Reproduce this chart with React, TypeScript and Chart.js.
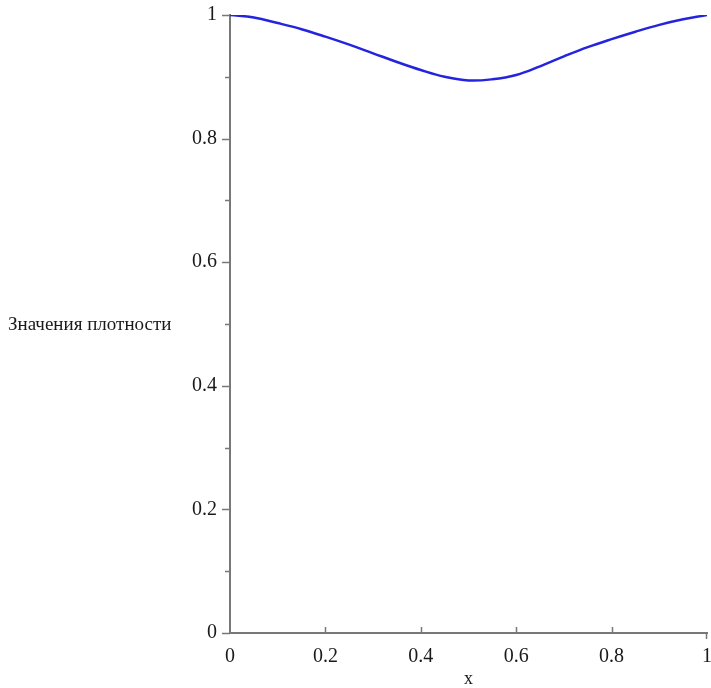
import React, { useEffect, useRef } from "react";
import { Chart, registerables } from "chart.js";

Chart.register(...registerables);

const xValues = [0, 0.05, 0.1, 0.15, 0.2, 0.25, 0.3, 0.35, 0.4, 0.45, 0.5, 0.55, 0.6, 0.65, 0.7, 0.75, 0.8, 0.85, 0.9, 0.95, 1];
const densityValues = [1.0, 0.996, 0.987, 0.977, 0.965, 0.952, 0.938, 0.924, 0.911, 0.9, 0.894, 0.896, 0.903, 0.917, 0.933, 0.948, 0.961, 0.973, 0.984, 0.993, 1.0];
const yMajorTicks = [0, 0.2, 0.4, 0.6, 0.8, 1];
const yMinorTicks = [0.1, 0.3, 0.5, 0.7, 0.9];
const xMajorTicks = [0.2, 0.4, 0.6, 0.8];
const xEndTicks = [1];
const yTitle = "Значения плотности";
const xTitle = "x";

const AXIS_COLOR = "#787878";
const FONT = "'Liberation Serif', 'Times New Roman', serif";

const fmt = (v: any) => String(+(+v).toFixed(1));

const tickPlugin = {
  id: "mapleTicks",
  afterDraw(chart: any) {
    const { ctx, scales } = chart;
    const xs = scales.x;
    const ys = scales.y;
    const left = xs.left;
    const bottom = ys.bottom;
    ctx.save();
    ctx.strokeStyle = AXIS_COLOR;
    ctx.lineWidth = 1.5;
    ctx.beginPath();
    yMajorTicks.forEach((v) => {
      const p = Math.round(ys.getPixelForValue(v)) + 0.5;
      ctx.moveTo(left - 8, p);
      ctx.lineTo(left, p);
    });
    yMinorTicks.forEach((v) => {
      const p = Math.round(ys.getPixelForValue(v)) + 0.5;
      ctx.moveTo(left - 5, p);
      ctx.lineTo(left, p);
    });
    xMajorTicks.forEach((v) => {
      const p = Math.round(xs.getPixelForValue(v)) + 0.5;
      ctx.moveTo(p, bottom);
      ctx.lineTo(p, bottom - 6);
    });
    xEndTicks.forEach((v) => {
      const p = Math.round(xs.getPixelForValue(v)) - 0.5;
      ctx.moveTo(p, bottom);
      ctx.lineTo(p, bottom + 6);
    });
    ctx.stroke();
    ctx.restore();
  },
};

export default function App() {
  const canvasRef = useRef<HTMLCanvasElement | null>(null);

  useEffect(() => {
    if (!canvasRef.current) return;
    const chart = new Chart(canvasRef.current, {
      type: "line",
      data: {
        datasets: [
          {
            data: xValues.map((x, i) => ({ x, y: densityValues[i] })),
            borderColor: "#2424e0",
            borderWidth: 2.5,
            pointRadius: 0,
            fill: false,
            tension: 0.4,
          },
        ],
      },
      options: {
        responsive: false,
        animation: false,
        layout: { padding: { top: 15, right: 4, bottom: 0, left: 0 } },
        plugins: { legend: { display: false }, tooltip: { enabled: false } },
        scales: {
          x: {
            type: "linear",
            min: 0,
            max: 1,
            afterFit: (s: any) => {
              s.height = 55;
              s.paddingLeft = 0;
              s.paddingRight = 0;
            },
            ticks: {
              stepSize: 0.2,
              padding: 12,
              color: "#1a1a1a",
              font: { family: FONT, size: 20 },
              maxRotation: 0,
              callback: fmt,
            },
            grid: { drawOnChartArea: false, drawTicks: false },
            border: { display: true, color: AXIS_COLOR, width: 2 },
            title: {
              display: true,
              text: xTitle,
              color: "#1a1a1a",
              font: { family: FONT, size: 18, lineHeight: 1.0 },
              padding: 0,
            },
          },
          y: {
            type: "linear",
            min: 0,
            max: 1,
            afterFit: (s: any) => {
              s.width = 230;
              s.paddingTop = 0;
              s.paddingBottom = 0;
            },
            ticks: {
              stepSize: 0.2,
              padding: 13,
              color: "#1a1a1a",
              font: { family: FONT, size: 20 },
              callback: fmt,
            },
            grid: { drawOnChartArea: false, drawTicks: false },
            border: { display: true, color: AXIS_COLOR, width: 2 },
          },
        },
      },
      plugins: [tickPlugin],
    });
    return () => chart.destroy();
  }, []);

  return (
    <div style={{ position: "absolute", left: 0, top: 0, width: 711, height: 688, background: "#fff" }}>
      <canvas ref={canvasRef} width={711} height={688} style={{ display: "block" }} />
      <div
        style={{
          position: "absolute",
          left: 8,
          top: 314,
          fontFamily: FONT,
          fontSize: 19,
          lineHeight: "20px",
          color: "#1a1a1a",
          whiteSpace: "nowrap",
        }}
      >
        {yTitle}
      </div>
    </div>
  );
}
